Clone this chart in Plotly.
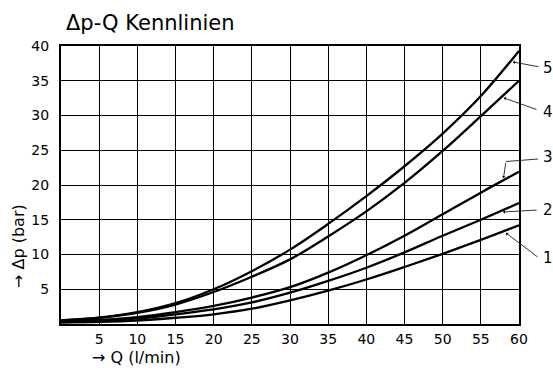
import plotly.graph_objects as go

Q = [0, 5, 10, 15, 20, 25, 30, 35, 40, 45, 50, 55, 60]
curve1 = [0.2, 0.3, 0.5, 0.9, 1.4, 2.2, 3.4, 4.8, 6.4, 8.2, 10.1, 12.1, 14.2]
curve2 = [0.3, 0.5, 0.8, 1.4, 2.1, 3.1, 4.5, 6.2, 8.1, 10.3, 12.7, 15.0, 17.4]
curve3 = [0.4, 0.6, 1.0, 1.7, 2.6, 3.8, 5.3, 7.4, 9.9, 12.7, 15.8, 18.9, 21.9]
curve4 = [0.5, 0.9, 1.6, 2.8, 4.6, 6.8, 9.3, 12.6, 16.2, 20.3, 24.9, 29.9, 35.0]
curve5 = [0.5, 0.9, 1.7, 3.0, 5.0, 7.6, 10.7, 14.4, 18.4, 22.7, 27.4, 32.8, 39.3]
series = {"1": curve1, "2": curve2, "3": curve3, "4": curve4, "5": curve5}

x_ticks = [5, 10, 15, 20, 25, 30, 35, 40, 45, 50, 55, 60]
y_ticks = [5, 10, 15, 20, 25, 30, 35, 40]

FONT = "DejaVu Sans, Liberation Sans, Arial, sans-serif"

fig = go.Figure()
for name, vals in series.items():
    fig.add_trace(go.Scatter(x=Q, y=vals, mode="lines", name=name,
                             line=dict(color="black", width=2.3, shape="spline", smoothing=1.0),
                             showlegend=False, hoverinfo="skip"))

W, H = 553, 370
L, R, T, B = 61, 34, 46, 46
pw, ph = W - L - R, H - T - B

def px(xp):
    return (xp - L) / pw

def py(yp):
    return (H - B - yp) / ph

annotations = []
shapes = []
labels = [
    ("5", (548, 68), (540, 67), (513, 62)),
    ("4", (548, 112), (538, 110), (504, 98)),
    ("2", (548, 210), (538, 210), (503, 212)),
    ("1", (548, 258), (539, 258), (506, 233)),
]
for txt, tpos, start, tip in labels:
    annotations.append(dict(xref="paper", yref="paper", x=px(tpos[0]), y=py(tpos[1]),
                            text=txt, showarrow=False, xanchor="center", yanchor="middle",
                            font=dict(size=15, color="black", family=FONT)))
    annotations.append(dict(xref="paper", yref="paper", x=px(tip[0]), y=py(tip[1]),
                            axref="pixel", ayref="pixel",
                            ax=start[0] - tip[0], ay=start[1] - tip[1],
                            text="", showarrow=True, arrowhead=1, arrowsize=0.8,
                            arrowwidth=0.8, arrowcolor="black"))
annotations.append(dict(xref="paper", yref="paper", x=px(548), y=py(157), text="3",
                        showarrow=False, xanchor="center", yanchor="middle",
                        font=dict(size=15, color="black", family=FONT)))
shapes.append(dict(type="line", xref="paper", yref="paper",
                   x0=px(538), y0=py(159), x1=px(506), y1=py(161.5),
                   line=dict(color="black", width=0.8)))
annotations.append(dict(xref="paper", yref="paper", x=px(503.5), y=py(178),
                        axref="pixel", ayref="pixel", ax=506 - 503.5, ay=161.5 - 178,
                        text="", showarrow=True, arrowhead=1, arrowsize=0.8,
                        arrowwidth=0.8, arrowcolor="black"))

annotations.append(dict(xref="paper", yref="paper", x=px(64), y=py(23), text="Δp-Q Kennlinien",
                        showarrow=False, xanchor="left", yanchor="middle",
                        font=dict(size=21, color="black", family=FONT)))
annotations.append(dict(xref="paper", yref="paper", x=px(90), y=py(357), text="→ Q (l/min)",
                        showarrow=False, xanchor="left", yanchor="middle",
                        font=dict(size=16, color="black", family=FONT)))
annotations.append(dict(xref="paper", yref="paper", x=px(18), y=py(246), text="→ Δp (bar)",
                        showarrow=False, xanchor="center", yanchor="middle", textangle=-90,
                        font=dict(size=16, color="black", family=FONT)))

fig.update_layout(
    width=W, height=H,
    margin=dict(l=L, r=R, t=T, b=B),
    paper_bgcolor="white", plot_bgcolor="white",
    annotations=annotations, shapes=shapes,
    font=dict(family=FONT, color="black"),
)
fig.update_xaxes(range=[0, 60], tickvals=x_ticks, ticktext=[str(v) for v in x_ticks],
                 showgrid=True, gridcolor="black", gridwidth=1, zeroline=False,
                 showline=True, linecolor="black", linewidth=2, mirror=True,
                 ticks="", ticklabelstandoff=1, tickfont=dict(size=14, family=FONT, color="black"))
fig.update_yaxes(range=[0, 40], tickvals=y_ticks, ticktext=[str(v) for v in y_ticks],
                 showgrid=True, gridcolor="black", gridwidth=1, zeroline=False,
                 showline=True, linecolor="black", linewidth=2, mirror=True,
                 ticks="", ticklabelstandoff=7, tickfont=dict(size=14, family=FONT, color="black"))

fig.write_html("out.html", config={"displayModeBar": False},
               post_script="document.body.style.margin='0';")
